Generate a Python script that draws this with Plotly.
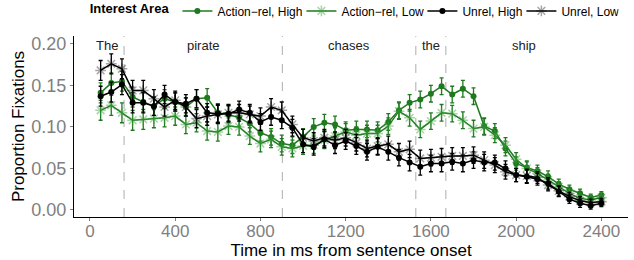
import plotly.graph_objects as go

time_ms = list(range(50, 2401, 50))

action_high = [0.141, 0.153, 0.155, 0.136, 0.130, 0.125, 0.134, 0.130, 0.124, 0.134,
               0.135, 0.117, 0.115, 0.111, 0.104, 0.093, 0.088, 0.080, 0.078, 0.088,
               0.100, 0.105, 0.103, 0.096, 0.097, 0.097, 0.096, 0.106, 0.120, 0.129,
               0.133, 0.140, 0.149, 0.139, 0.146, 0.137, 0.101, 0.095, 0.074, 0.056,
               0.051, 0.047, 0.040, 0.031, 0.025, 0.020, 0.015, 0.018]
action_low = [0.120, 0.126, 0.117, 0.108, 0.109, 0.110, 0.111, 0.113, 0.103, 0.105,
              0.095, 0.094, 0.101, 0.100, 0.089, 0.080, 0.085, 0.076, 0.074, 0.077,
              0.078, 0.084, 0.089, 0.094, 0.090, 0.092, 0.092, 0.101, 0.119, 0.111,
              0.097, 0.107, 0.117, 0.116, 0.108, 0.098, 0.100, 0.090, 0.078, 0.061,
              0.050, 0.044, 0.036, 0.028, 0.020, 0.014, 0.012, 0.015]
unrel_high = [0.137, 0.142, 0.151, 0.129, 0.129, 0.125, 0.139, 0.130, 0.128, 0.134,
              0.117, 0.116, 0.116, 0.121, 0.117, 0.106, 0.112, 0.108, 0.099, 0.079,
              0.076, 0.085, 0.078, 0.083, 0.077, 0.070, 0.076, 0.070, 0.063, 0.057,
              0.052, 0.056, 0.056, 0.058, 0.056, 0.060, 0.057, 0.057, 0.050, 0.042,
              0.040, 0.037, 0.032, 0.022, 0.013, 0.008, 0.005, 0.008]
unrel_low = [0.168, 0.176, 0.170, 0.144, 0.144, 0.134, 0.124, 0.132, 0.124, 0.110,
             0.113, 0.115, 0.117, 0.117, 0.115, 0.113, 0.124, 0.120, 0.103, 0.087,
             0.083, 0.087, 0.084, 0.087, 0.081, 0.074, 0.077, 0.079, 0.070, 0.073,
             0.062, 0.063, 0.064, 0.065, 0.065, 0.066, 0.060, 0.054, 0.046, 0.042,
             0.041, 0.039, 0.030, 0.023, 0.016, 0.011, 0.009, 0.010]
std_err = [0.012, 0.012, 0.012, 0.012, 0.012, 0.011, 0.011, 0.011, 0.011, 0.011,
           0.011, 0.011, 0.010, 0.010, 0.010, 0.010, 0.010, 0.010, 0.010, 0.010,
           0.010, 0.010, 0.010, 0.010, 0.010, 0.010, 0.010, 0.010, 0.010, 0.010,
           0.010, 0.010, 0.010, 0.010, 0.010, 0.010, 0.010, 0.009, 0.009, 0.008,
           0.008, 0.007, 0.007, 0.006, 0.005, 0.005, 0.004, 0.004]

word_bounds = [0, 160, 903, 1529, 1670, 2400]
words = ["The", "pirate", "chases", "the", "ship"]
x_ticks = [0, 400, 800, 1200, 1600, 2000, 2400]
y_ticks = [0.00, 0.05, 0.10, 0.15, 0.20]

GREEN = "#1f7a1f"
series = [
    ("Action\u2212rel, High", action_high, GREEN, "circle", GREEN, 79),
    ("Action\u2212rel, Low", action_low, GREEN, "asterisk-open", "rgba(60,160,60,0.45)", 76),
    ("Unrel, High", unrel_high, "black", "circle", "black", 54),
    ("Unrel, Low", unrel_low, "black", "asterisk-open", "rgba(0,0,0,0.35)", 52),
]

fig = go.Figure()
for name, vals, col, sym, mcol, lw in series:
    if sym == "circle":
        marker = dict(symbol=sym, size=6, color=mcol)
    else:
        marker = dict(symbol=sym, size=9, color=mcol, line=dict(color=mcol, width=1.5))
    fig.add_trace(go.Scatter(
        x=time_ms, y=vals, name=name, mode="lines+markers",
        line=dict(color=col, width=1.5), marker=marker, legendwidth=lw,
        error_y=dict(type="data", array=std_err, color=col, thickness=1.3, width=2),
    ))

for b in word_bounds[1:-1]:
    fig.add_shape(type="line", x0=b, x1=b, y0=0, y1=1, yref="paper", xref="x",
                  line=dict(color="#bbbbbb", width=1.2, dash="dash"), layer="below")

for i, w in enumerate(words):
    fig.add_annotation(x=(word_bounds[i] + word_bounds[i + 1]) / 2, y=0.198, text=w,
                       showarrow=False, font=dict(size=13, color="#222222"))

fig.update_layout(
    width=634, height=260,
    margin=dict(l=74, r=6, t=36, b=43, autoexpand=False),
    plot_bgcolor="white", paper_bgcolor="white",
    font=dict(family="Liberation Sans, Arial, sans-serif", color="black"),
    showlegend=True,
    legend=dict(orientation="h", x=0.557, xref="container", xanchor="center",
                y=0.958, yref="container", yanchor="middle",
                title=dict(text="<b>Interest Area</b>", font=dict(size=13), side="left"),
                font=dict(size=12), itemwidth=30, tracegroupgap=0),
    xaxis=dict(range=[-75, 2525], tickvals=x_ticks, ticks="outside", ticklen=3,
               tickcolor="#7f7f7f", tickfont=dict(size=17, color="#7f7f7f"),
               ticklabelstandoff=-4,
               showline=True, linecolor="black", linewidth=1, showgrid=False, zeroline=False,
               title=dict(text="Time in ms from sentence onset", font=dict(size=17), standoff=3)),
    yaxis=dict(range=[-0.0085, 0.2095], tickvals=y_ticks, tickformat=".2f", ticks="outside",
               ticklen=3, tickcolor="#7f7f7f", tickfont=dict(size=18, color="#7f7f7f"),
               showline=True, linecolor="black", linewidth=1, showgrid=False, zeroline=False,
               title=dict(text="Proportion Fixations", font=dict(size=17), standoff=2)),
)

fig.write_html("out.html", config={"displayModeBar": False},
               post_script="document.body.style.margin='0';")
